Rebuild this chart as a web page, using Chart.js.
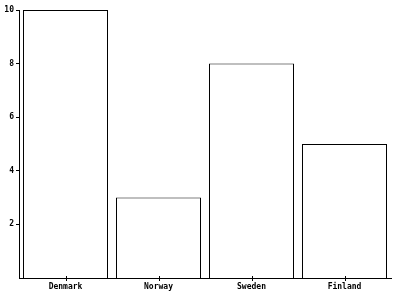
<!DOCTYPE html>
<html lang="en">
<head>
  <meta charset="UTF-8" />
  <title>Bar chart</title>
  <script src="https://cdn.jsdelivr.net/npm/chart.js"></script>
</head>
<body style="margin: 0; padding: 0; background: white;">
<div style="width: 400px; height: 300px;">
  <canvas id="barChart" width="400" height="300"></canvas>
</div>
<script>
  // data
  const countries = ['Denmark', 'Norway', 'Sweden', 'Finland'];
  const values = [10, 3, 8, 5];
  const yTicks = [2, 4, 6, 8, 10];

  const ctx = document.getElementById('barChart').getContext('2d');

  // small tick marks across the x axis, centred under each category
  const xTickMarks = {
    id: 'xTickMarks',
    afterDraw(chart) {
      const x = chart.scales.x;
      const base = chart.chartArea.bottom;
      const c = chart.ctx;
      c.save();
      c.fillStyle = 'black';
      countries.forEach((name, i) => {
        const px = Math.round(x.getPixelForValue(i));
        c.fillRect(px, base - 2, 1, 5);
      });
      c.restore();
    }
  };

  new Chart(ctx, {
    type: 'bar',
    data: {
      labels: countries,
      datasets: [{
        data: values,
        backgroundColor: 'white',
        borderColor: 'black',
        borderWidth: 1,
        categoryPercentage: 1,
        barPercentage: 0.914
      }]
    },
    options: {
      responsive: false,
      animation: false,
      layout: { padding: { top: 10, right: 9, left: 0, bottom: 0 } },
      plugins: { legend: { display: false }, tooltip: { enabled: false } },
      scales: {
        x: {
          grid: { display: false, drawTicks: false },
          border: { display: true, color: 'black' },
          ticks: { color: 'black', font: { family: 'DejaVu Sans Mono', size: 8, weight: 'bold' }, padding: 4, maxRotation: 0 },
          afterFit: function(scale) { scale.height = 22; }
        },
        y: {
          min: 0,
          max: 10,
          afterBuildTicks: function(scale) {
            scale.ticks = yTicks.map(v => ({ value: v }));
          },
          grid: { drawOnChartArea: false, drawTicks: true, tickLength: 3, color: 'black' },
          border: { display: true, color: 'black' },
          ticks: { color: 'black', font: { family: 'DejaVu Sans Mono', size: 8, weight: 'bold' }, padding: 2 },
          afterFit: function(scale) { scale.width = 19; }
        }
      }
    },
    plugins: [xTickMarks]
  });
</script>
</body>
</html>
